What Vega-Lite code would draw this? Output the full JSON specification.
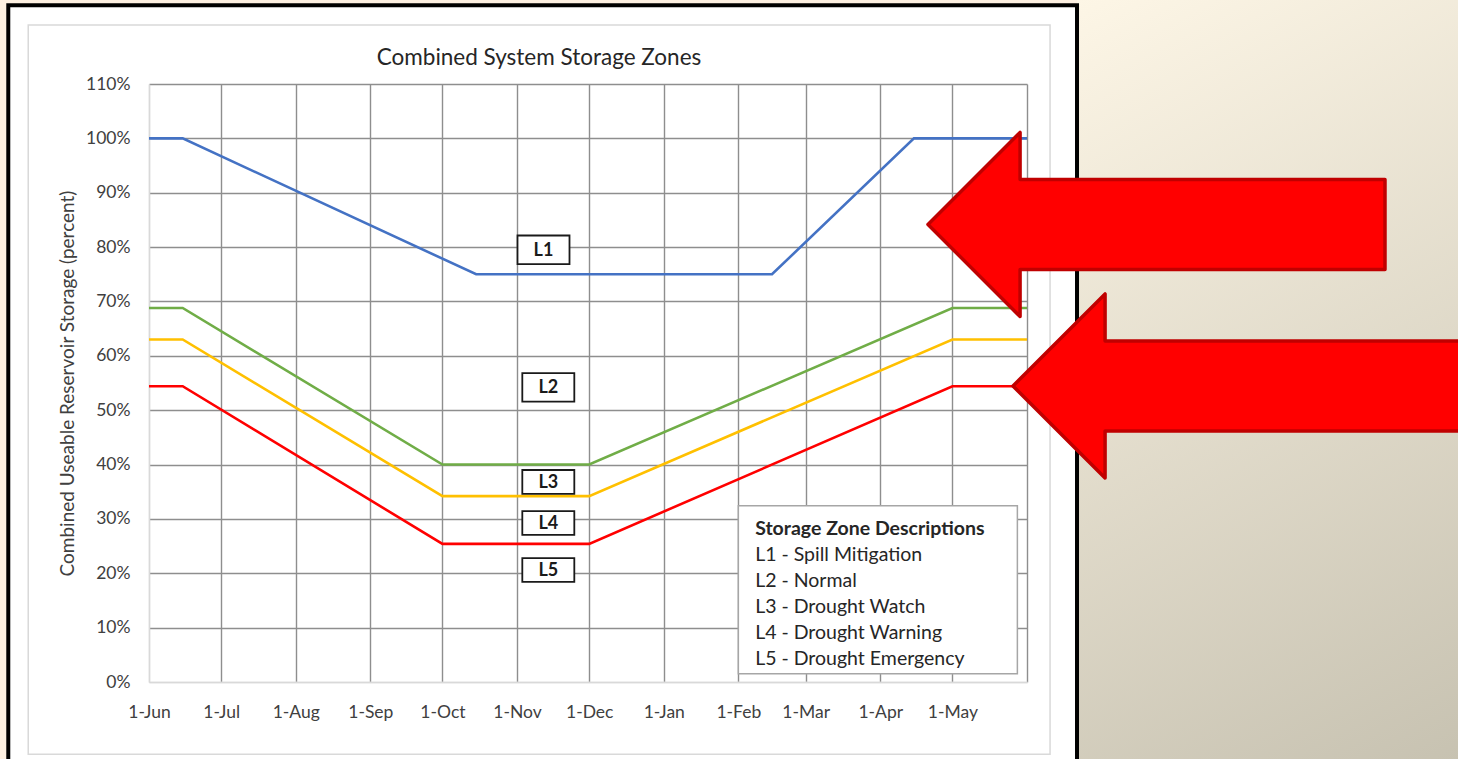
{
  "$schema": "https://vega.github.io/schema/vega-lite/v6.json",
  "width": 878,
  "height": 598,
  "autosize": {"type": "none"},
  "padding": {"left": 149, "top": 84, "right": 431, "bottom": 77},
  "background": "white",
  "datasets": {
    "lines": [
      {"series": "L1", "date": "2022-06-01T00:00", "value": 1.0},
      {"series": "L1", "date": "2022-06-15T00:00", "value": 1.0},
      {"series": "L1", "date": "2022-10-15T00:00", "value": 0.75},
      {"series": "L1", "date": "2023-02-15T00:00", "value": 0.75},
      {"series": "L1", "date": "2023-04-15T00:00", "value": 1.0},
      {"series": "L1", "date": "2023-06-01T00:00", "value": 1.0},
      {"series": "L3", "date": "2022-06-01T00:00", "value": 0.688},
      {"series": "L3", "date": "2022-06-15T00:00", "value": 0.688},
      {"series": "L3", "date": "2022-10-01T00:00", "value": 0.40},
      {"series": "L3", "date": "2022-12-01T00:00", "value": 0.40},
      {"series": "L3", "date": "2023-05-01T00:00", "value": 0.688},
      {"series": "L3", "date": "2023-06-01T00:00", "value": 0.688},
      {"series": "L4", "date": "2022-06-01T00:00", "value": 0.63},
      {"series": "L4", "date": "2022-06-15T00:00", "value": 0.63},
      {"series": "L4", "date": "2022-10-01T00:00", "value": 0.342},
      {"series": "L4", "date": "2022-12-01T00:00", "value": 0.342},
      {"series": "L4", "date": "2023-05-01T00:00", "value": 0.63},
      {"series": "L4", "date": "2023-06-01T00:00", "value": 0.63},
      {"series": "L5", "date": "2022-06-01T00:00", "value": 0.544},
      {"series": "L5", "date": "2022-06-15T00:00", "value": 0.544},
      {"series": "L5", "date": "2022-10-01T00:00", "value": 0.254},
      {"series": "L5", "date": "2022-12-01T00:00", "value": 0.254},
      {"series": "L5", "date": "2023-05-01T00:00", "value": 0.544},
      {"series": "L5", "date": "2023-06-01T00:00", "value": 0.544}
    ],
    "zones": [
      {"lab": "L1", "date": "2022-11-12T00:00", "value": 0.795},
      {"lab": "L2", "date": "2022-11-14T00:00", "value": 0.542},
      {"lab": "L3", "date": "2022-11-14T00:00", "value": 0.368},
      {"lab": "L4", "date": "2022-11-14T00:00", "value": 0.2925},
      {"lab": "L5", "date": "2022-11-14T00:00", "value": 0.206}
    ],
    "one": [{}]
  },
  "layer": [
    {
      "data": {"name": "one"},
      "mark": {"type": "rect", "fill": "#fdf0e1"},
      "encoding": {
        "x": {"datum": {"year": 2022, "month": 1, "date": 1}, "type": "temporal"},
        "x2": {"datum": {"year": 2022, "month": 4, "date": 3, "hours": 12}},
        "y": {"datum": -0.3, "type": "quantitative"},
        "y2": {"datum": 1.4}
      }
    },
    {
      "data": {"name": "one"},
      "mark": {"type": "rect", "fill": "#fdf0e1"},
      "encoding": {
        "x": {"datum": {"year": 2022, "month": 1, "date": 1}, "type": "temporal"},
        "x2": {"datum": {"year": 2023, "month": 7, "date": 1}},
        "y": {"datum": 1.244, "type": "quantitative"},
        "y2": {"datum": 1.4}
      }
    },
    {
      "data": {"name": "one"},
      "mark": {
        "type": "rect",
        "fill": {
          "gradient": "linear",
          "x1": 0, "y1": 0, "x2": 0.33, "y2": 1.25,
          "stops": [
            {"offset": 0, "color": "#fdf6e6"},
            {"offset": 1, "color": "#c4bfae"}
          ]
        }
      },
      "encoding": {
        "x": {"datum": {"year": 2023, "month": 6, "date": 21, "hours": 19}, "type": "temporal"},
        "x2": {"datum": {"year": 2023, "month": 11, "date": 28}},
        "y": {"datum": -0.142, "type": "quantitative"},
        "y2": {"datum": 1.256}
      }
    },
    {
      "data": {"name": "one"},
      "mark": {"type": "rect", "fill": "white", "fillOpacity": 0, "stroke": "#000000", "strokeWidth": 4},
      "encoding": {
        "x": {"datum": {"year": 2022, "month": 4, "date": 3, "hours": 12}, "type": "temporal"},
        "x2": {"datum": {"year": 2023, "month": 6, "date": 21, "hours": 19}},
        "y": {"datum": -0.3, "type": "quantitative"},
        "y2": {"datum": 1.2448}
      }
    },
    {
      "data": {"name": "one"},
      "mark": {"type": "rect", "fill": "white", "fillOpacity": 0, "stroke": "#d9d9d9", "strokeWidth": 1.5},
      "encoding": {
        "x": {"datum": {"year": 2022, "month": 4, "date": 11, "hours": 19}, "type": "temporal"},
        "x2": {"datum": {"year": 2023, "month": 6, "date": 10, "hours": 14}},
        "y": {"datum": -0.133, "type": "quantitative"},
        "y2": {"datum": 1.2086}
      }
    },
    {
      "data": {"name": "one"},
      "mark": {"type": "text", "text": "Combined System Storage Zones", "font": "Lato", "fontSize": 22.5, "color": "#262626", "align": "center", "baseline": "alphabetic"},
      "encoding": {
        "x": {"datum": {"year": 2022, "month": 11, "date": 10, "hours": 3}, "type": "temporal"},
        "y": {"datum": 1.1349, "type": "quantitative"}
      }
    },
    {
      "data": {"name": "lines"},
      "mark": {"type": "line", "strokeWidth": 2.6},
      "encoding": {
        "x": {
          "field": "date",
          "type": "temporal",
          "scale": {"domain": [{"year": 2022, "month": 6, "date": 1}, {"year": 2023, "month": 6, "date": 1}], "nice": false},
          "axis": {
            "values": [
              {"year": 2022, "month": 6, "date": 1},
              {"year": 2022, "month": 7, "date": 1},
              {"year": 2022, "month": 8, "date": 1},
              {"year": 2022, "month": 9, "date": 1},
              {"year": 2022, "month": 10, "date": 1},
              {"year": 2022, "month": 11, "date": 1},
              {"year": 2022, "month": 12, "date": 1},
              {"year": 2023, "month": 1, "date": 1},
              {"year": 2023, "month": 2, "date": 1},
              {"year": 2023, "month": 3, "date": 1},
              {"year": 2023, "month": 4, "date": 1},
              {"year": 2023, "month": 5, "date": 1},
              {"year": 2023, "month": 6, "date": 1}
            ],
            "labelExpr": "datum.index >= 1 ? '' : timeFormat(datum.value, '%-d-%b')",
            "labelFont": "Lato",
            "labelFontSize": 17.5,
            "labelColor": "#404040",
            "labelAngle": 0,
            "labelPadding": 21,
            "labelOverlap": false,
            "labelFlush": false,
            "labelBound": false,
            "ticks": false,
            "domainColor": "#d9d9d9",
            "domainWidth": 1.5,
            "grid": true,
            "gridColor": {"condition": {"test": "datum.index == 0", "value": "#d9d9d9"}, "value": "#8e8e8e"},
            "gridWidth": 1.4,
            "title": null
          }
        },
        "y": {
          "field": "value",
          "type": "quantitative",
          "scale": {"domain": [0, 1.1], "nice": false, "zero": false},
          "axis": {
            "values": [0, 0.1, 0.2, 0.3, 0.4, 0.5, 0.6, 0.7, 0.8, 0.9, 1.0, 1.1],
            "format": ".0%",
            "labelFont": "Lato",
            "labelFontSize": 17.5,
            "labelColor": "#404040",
            "labelPadding": 19,
            "labelOverlap": false,
            "labelFlush": false,
            "ticks": false,
            "domainColor": "#d9d9d9",
            "domainWidth": 1.5,
            "grid": true,
            "gridColor": {"condition": {"test": "datum.index == 0", "value": "#d9d9d9"}, "value": "#8e8e8e"},
            "gridWidth": 1.4,
            "title": "Combined Useable Reservoir Storage (percent)",
            "titleFont": "Lato",
            "titleFontSize": 19,
            "titleFontWeight": "normal",
            "titleColor": "#404040",
            "titlePadding": 8
          }
        },
        "color": {
          "field": "series",
          "type": "nominal",
          "scale": {"domain": ["L1", "L3", "L4", "L5"], "range": ["#4472c4", "#70ad47", "#ffc000", "#ff0000"]},
          "legend": null
        }
      }
    },
    {
      "data": {"name": "zones"},
      "mark": {"type": "point", "filled": true, "fill": "white", "stroke": "#1a1a1a", "strokeWidth": 1.8, "opacity": 1, "size": 2704},
      "encoding": {
        "x": {"field": "date", "type": "temporal"},
        "y": {"field": "value", "type": "quantitative"},
        "shape": {
          "condition": {"test": "datum.lab == 'L1' || datum.lab == 'L2'", "value": "M-1,-0.55H1V0.55H-1Z"},
          "value": "M-1,-0.46H1V0.46H-1Z"
        }
      }
    },
    {
      "data": {"name": "zones"},
      "mark": {"type": "text", "font": "Lato", "fontSize": 18, "fontWeight": "bold", "color": "#1a1a1a", "baseline": "middle", "align": "center", "dy": 1},
      "encoding": {
        "x": {"field": "date", "type": "temporal"},
        "y": {"field": "value", "type": "quantitative"},
        "text": {"field": "lab"}
      }
    },
    {
      "data": {"name": "one"},
      "mark": {"type": "rect", "fill": "white", "stroke": "#a6a6a6", "strokeWidth": 1.5},
      "encoding": {
        "x": {"datum": {"year": 2023, "month": 2, "date": 1}, "type": "temporal"},
        "x2": {"datum": {"year": 2023, "month": 5, "date": 28}},
        "y": {"datum": 0.015, "type": "quantitative"},
        "y2": {"datum": 0.324}
      }
    },
    {
      "data": {"name": "one"},
      "mark": {"type": "text", "text": "Storage Zone Descriptions", "font": "Lato", "fontSize": 19.5, "fontWeight": "bold", "color": "#262626", "align": "left", "baseline": "alphabetic"},
      "encoding": {
        "x": {"datum": {"year": 2023, "month": 2, "date": 8}, "type": "temporal"},
        "y": {"datum": 0.2704, "type": "quantitative"}
      }
    },
    {
      "data": {"name": "one"},
      "mark": {
        "type": "text",
        "text": ["L1 - Spill Mitigation", "L2 - Normal", "L3 - Drought Watch", "L4 - Drought Warning", "L5 - Drought Emergency"],
        "lineHeight": 26.1,
        "font": "Lato",
        "fontSize": 19.5,
        "color": "#262626",
        "align": "left",
        "baseline": "alphabetic"
      },
      "encoding": {
        "x": {"datum": {"year": 2023, "month": 2, "date": 8}, "type": "temporal"},
        "y": {"datum": 0.2226, "type": "quantitative"}
      }
    },
    {
      "data": {"name": "one"},
      "mark": {
        "type": "point",
        "shape": "M-1,0L-0.597,-0.403L-0.597,-0.197L1,-0.197L1,0.197L-0.597,0.197L-0.597,0.403Z",
        "size": 208849,
        "filled": true,
        "fill": "#ff0000",
        "stroke": "#c00000",
        "strokeWidth": 3.5,
        "strokeJoin": "round",
        "opacity": 1
      },
      "encoding": {
        "x": {"datum": {"year": 2023, "month": 7, "date": 24, "hours": 20}, "type": "temporal"},
        "y": {"datum": 0.8416, "type": "quantitative"}
      }
    },
    {
      "data": {"name": "one"},
      "mark": {
        "type": "point",
        "shape": "M-1,0L-0.597,-0.403L-0.597,-0.197L1,-0.197L1,0.197L-0.597,0.197L-0.597,0.403Z",
        "size": 208849,
        "filled": true,
        "fill": "#ff0000",
        "stroke": "#c00000",
        "strokeWidth": 3.5,
        "strokeJoin": "round",
        "opacity": 1
      },
      "encoding": {
        "x": {"datum": {"year": 2023, "month": 8, "date": 29, "hours": 4}, "type": "temporal"},
        "y": {"datum": 0.5445, "type": "quantitative"}
      }
    }
  ],
  "config": {
    "view": {"stroke": null},
    "font": "Lato"
  }
}
